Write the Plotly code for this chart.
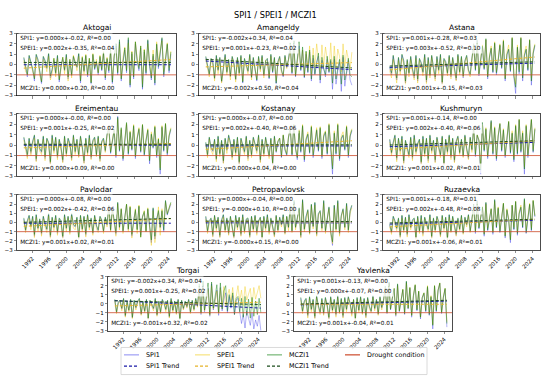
import plotly.graph_objects as go

W, H = 550, 380
START_YEAR = 1990
MONTH_STEP = 5
DROUGHT_LEVEL = -1
X_RANGE = [1988.4, 2025.8]
Y_RANGE = [-3, 3]
X_TICKS = [1992, 1996, 2000, 2004, 2008, 2012, 2016, 2020, 2024]
Y_TICKS = [-3, -2, -1, 0, 1, 2, 3]

stations = ["Aktogai", "Amangeldy", "Astana", "Ereimentau", "Kostanay", "Kushmuryn",
            "Pavlodar", "Petropavlovsk", "Ruzaevka", "Torgai", "Yavlenka"]

# regression equations shown in each panel (slope per month index, intercept, R^2)
spi_slope = [0.000, -0.002, 0.001, 0.000, 0.000, 0.001, 0.000, 0.000, 0.001, -0.002, 0.001]
spi_icpt = [-0.02, 0.34, -0.28, -0.001, -0.07, -0.14, -0.08, -0.04, -0.18, 0.34, -0.13]
spi_r2 = [0.00, 0.04, 0.03, 0.00, 0.00, 0.00, 0.00, 0.00, 0.01, 0.04, 0.00]
spei_slope = [0.002, 0.001, 0.003, 0.001, 0.002, 0.002, 0.002, -0.0001, 0.002, 0.001, 0.000]
spei_icpt = [-0.35, -0.23, -0.52, -0.25, -0.40, -0.40, -0.42, 0.10, -0.48, -0.25, -0.07]
spei_r2 = [0.04, 0.02, 0.10, 0.02, 0.06, 0.06, 0.06, 0.00, 0.08, 0.02, 0.00]
mczi_slope = [0.000, -0.002, 0.001, 0.000, 0.000, 0.001, 0.001, -0.0001, 0.001, -0.001, 0.001]
mczi_icpt = [0.20, 0.50, -0.15, 0.09, 0.04, 0.02, 0.02, 0.15, -0.06, 0.32, -0.04]
mczi_r2 = [0.00, 0.04, 0.03, 0.00, 0.00, 0.01, 0.01, 0.00, 0.01, 0.02, 0.01]

aktogai_spi = [0.6,-0.4,-1.2,0.8,0.2,-0.5,-1.6,0.9,0.4,-0.8,-1.9,0.7, 0.3,-0.4,1.0,-1.3,-0.6,0.4,-0.9,0.8,-1.7,-0.2,0.5,-0.6, 0.9,-1.4,0.3,-1.1,0.7,0.1,-0.3,1.0,-1.8,0.6,-0.7,0.8, -1.2,0.4,-2.0,0.9,-0.5,0.2,-1.0,0.7,-0.6,1.1,-1.5,0.5, -0.8,1.2,-1.9,0.6,1.8,-1.0,2.2,-1.6,0.4,1.4,-0.8,2.4, -2.2,1.0,-1.4,2.0,0.3,-0.6,1.6,-2.4,1.2,-1.0,2.3,-0.2, -1.5,0.8,-2.0,1.9,-0.4,1.0,2.5,-1.2,0.6,1.9,-0.8,1.0]
aktogai_spei = [0.4,-0.7,-0.9,0.6,0.0,-0.8,-1.3,0.7,0.2,-1.1,-1.6,0.5, 0.1,-0.7,0.8,-1.5,-0.9,0.6,-1.2,0.6,-1.4,-0.5,0.7,-0.9, 0.7,-1.6,0.5,-1.3,0.9,0.3,-0.6,0.8,-1.5,0.8,-0.9,1.0, -1.0,0.6,-1.7,1.1,-0.3,0.5,-0.8,0.9,-0.4,1.3,-1.2,0.7, -0.5,1.4,-1.5,0.9,1.6,-0.7,2.0,-1.3,0.7,1.7,-0.5,2.1, -1.8,1.3,-1.0,2.2,0.6,-0.2,1.8,-1.9,1.5,-0.6,2.0,0.2, -1.1,1.4,-1.5,2.2,0.2,1.3,2.3,-0.7,1.0,2.1,-0.3,1.3]
aktogai_mczi = [0.7,-0.3,-1.0,0.9,0.3,-0.4,-1.4,1.0,0.5,-0.7,-1.7,0.8, 0.4,-0.3,1.1,-1.1,-0.5,0.6,-0.8,0.9,-1.5,-0.1,0.7,-0.5, 1.0,-1.2,0.5,-1.0,0.8,0.2,-0.2,1.1,-1.6,0.7,-0.6,0.9, -1.0,0.6,-1.8,1.0,-0.4,0.3,-0.8,0.8,-0.5,1.2,-1.3,0.6, -0.6,1.4,-1.7,0.8,2.0,-0.8,2.4,-1.4,0.5,1.6,-0.6,2.6, -2.0,1.2,-1.2,2.2,0.4,-0.4,1.8,-2.2,1.4,-0.8,2.4,0.0, -1.3,1.0,-1.8,2.0,-0.2,1.2,2.6,-1.0,0.8,2.0,-0.6,1.2]

amangeldy_spi = [0.7,-0.3,-1.0,0.5,0.2,-1.4,0.8,-0.6,0.6,-1.7,-0.4,0.9, -0.8,0.4,-1.2,0.7,0.1,-1.5,0.6,-0.9,0.8,-1.8,0.5,-0.2, -0.7,0.9,-1.3,0.6,-0.4,-1.6,0.7,-0.5,0.8,-1.1,0.3,0.5, -1.4,0.9,-0.8,0.6,-1.9,0.2,0.7,-0.6,-1.2,0.8,-0.3,0.4, 1.6,-0.9,2.0,-1.2,0.4,1.8,-0.6,1.4,-1.3,1.0,-0.8,1.2, -1.6,0.6,-1.0,0.2,0.8,-1.8,0.4,-0.5,-1.2,0.5,-0.8,0.3, -2.4,0.5,-1.9,-0.6,0.2,-2.6,0.7,-2.1,-1.0,0.4,-1.5,-2.0]
amangeldy_spei = [0.5,-0.5,-1.2,0.4,0.0,-1.6,0.6,-0.9,0.5,-1.8,-0.6,0.7, -1.0,0.3,-1.5,0.6,-0.1,-1.7,0.5,-1.1,0.7,-1.6,0.4,-0.4, -0.9,0.8,-1.5,0.5,-0.6,-1.4,0.6,-0.7,0.7,-1.3,0.4,0.3, -1.2,0.8,-0.6,0.5,-1.6,0.1,0.6,-0.8,-1.0,0.7,-0.4,0.3, 1.3,-0.7,1.6,-1.0,0.3,1.5,-0.4,1.4,-1.0,1.2,-0.5,1.8, -0.9,1.6,-0.3,2.0,0.6,-0.8,1.9,-0.2,1.7,0.4,-0.6,2.1, -0.9,1.8,-0.4,1.5,0.8,-0.7,2.0,-0.2,1.4,0.5,-0.5,1.2]
amangeldy_mczi = [0.8,-0.2,-0.9,0.6,0.3,-1.3,0.9,-0.5,0.7,-1.6,-0.3,1.0, -0.7,0.5,-1.1,0.8,0.2,-1.4,0.7,-0.8,0.9,-1.7,0.6,-0.1, -0.6,1.0,-1.2,0.7,-0.3,-1.5,0.8,-0.4,0.9,-1.0,0.4,0.6, -1.3,1.0,-0.7,0.7,-1.8,0.3,0.8,-0.5,-1.1,0.9,-0.2,0.5, 2.1,-0.8,2.3,-1.1,0.5,2.2,-0.5,1.7,-1.2,1.3,-0.7,1.4, -1.4,0.9,-0.9,0.3,1.1,-1.5,0.7,-0.4,-1.0,0.8,-0.7,0.5, -1.8,0.8,-1.4,-0.4,0.5,-1.9,0.9,-1.5,-0.7,0.6,-1.0,-1.2]

astana_spi = [-0.3,-1.0,0.8,-0.2,-1.5,0.6,-0.7,0.9,0.3,-1.8,0.4,-0.9, 0.7,-0.5,-1.3,0.8,-1.6,0.5,0.1,-0.8,0.9,-1.7,0.6,-1.1, 0.8,-0.3,-1.4,0.7,-0.6,0.9,-1.9,0.5,0.2,-0.9,0.8,-1.2, 0.6,-0.4,-1.5,0.9,-0.8,0.7,-1.3,0.3,0.8,-0.6,-1.0,0.5, 1.9,-0.6,2.3,-1.1,0.4,1.7,-0.5,2.4,-1.4,0.6,1.5,-0.8, 2.0,-1.0,0.3,1.8,-0.4,2.2,-1.6,0.9,1.4,-0.7,2.5,-1.2, -2.8,1.6,-0.9,2.5,-1.6,0.8,1.4,-0.6,2.3,-2.0,1.0,1.8]
astana_spei = [-0.6,-1.3,0.5,-0.5,-1.8,0.4,-1.0,0.6,0.1,-2.0,0.3,-1.2, 0.5,-0.8,-1.5,0.6,-1.8,0.4,-0.2,-1.1,0.7,-1.9,0.4,-1.3, 0.7,-0.6,-1.6,0.5,-0.9,0.7,-2.0,0.4,0.0,-1.1,0.7,-1.4, 0.5,-0.7,-1.6,0.8,-1.0,0.6,-1.2,0.2,0.7,-0.8,-1.2,0.4, 1.8,-0.4,2.1,-0.9,0.6,1.9,-0.3,2.4,-1.1,0.8,1.8,-0.5, 2.2,-0.7,0.6,2.0,-0.2,2.4,-1.3,1.2,1.9,-0.5,2.6,-1.0, -1.9,1.9,-0.5,2.6,-1.0,1.2,1.8,-0.3,2.4,-1.3,1.3,2.0]
astana_mczi = [-0.2,-0.8,0.9,-0.1,-1.3,0.7,-0.6,1.0,0.4,-1.6,0.5,-0.8, 0.8,-0.4,-1.1,0.9,-1.4,0.6,0.2,-0.7,1.0,-1.5,0.7,-1.0, 0.9,-0.2,-1.2,0.8,-0.5,1.0,-1.7,0.6,0.3,-0.8,0.9,-1.0, 0.7,-0.3,-1.3,1.0,-0.7,0.8,-1.1,0.4,0.9,-0.5,-0.9,0.6, 2.0,-0.5,2.4,-0.9,0.5,1.8,-0.4,2.5,-1.2,0.7,1.6,-0.7, 2.1,-0.8,0.4,1.9,-0.3,2.3,-1.4,1.0,1.5,-0.6,2.6,-1.1, -2.2,1.7,-0.7,2.6,-1.3,0.9,1.5,-0.5,2.4,-1.6,1.1,1.9]

ereimentau_spi = [0.7,-0.2,-1.1,0.6,-0.8,0.3,0.9,-1.5,0.5,-0.4,-0.7,0.8, -1.3,0.6,0.2,-1.8,0.9,-0.6,0.7,-1.2,0.5,-0.3,-1.6,0.8, -0.9,0.6,0.1,-1.4,0.9,-0.7,0.5,-1.1,0.8,-0.2,-1.7,0.6, -0.8,0.9,-1.3,0.4,0.7,-1.0,0.8,-1.5,0.3,0.6,-0.6,1.0, 1.6,-0.8,0.4,1.4,-1.2,2.8,-0.6,1.5,-1.5,0.3,2.0,-0.9, 1.2,-0.5,1.8,-1.3,0.6,1.5,-0.7,1.9,-1.0,0.4,1.4,-1.8, 1.0,-0.3,1.7,-1.2,0.5,-2.8,1.7,-0.6,2.0,-1.0,0.8,1.5]
ereimentau_spei = [0.5,-0.4,-1.3,0.4,-1.0,0.1,0.7,-1.6,0.4,-0.6,-0.9,0.6, -1.5,0.5,0.0,-1.9,0.7,-0.8,0.6,-1.4,0.4,-0.5,-1.7,0.7, -1.1,0.4,-0.1,-1.5,0.8,-0.9,0.4,-1.2,0.7,-0.4,-1.8,0.5, -1.0,0.7,-1.4,0.3,0.6,-1.1,0.7,-1.6,0.2,0.5,-0.7,0.9, 1.5,-0.6,0.5,1.6,-1.0,2.5,-0.4,1.6,-1.2,0.5,2.1,-0.6, 1.4,-0.3,2.0,-1.0,0.8,1.7,-0.5,2.0,-0.7,0.6,1.6,-1.4, 1.3,-0.1,1.9,-0.9,0.7,-2.2,1.9,-0.3,2.1,-0.7,1.0,1.7]
ereimentau_mczi = [0.8,-0.1,-0.9,0.7,-0.6,0.4,1.0,-1.3,0.6,-0.3,-0.6,0.9, -1.1,0.7,0.3,-1.6,1.0,-0.5,0.8,-1.0,0.6,-0.2,-1.4,0.9, -0.8,0.7,0.2,-1.2,1.0,-0.6,0.6,-0.9,0.9,-0.1,-1.5,0.7, -0.7,1.0,-1.1,0.5,0.8,-0.9,0.9,-1.3,0.4,0.7,-0.5,1.1, 1.8,-0.7,0.5,1.5,-1.0,2.7,-0.5,1.7,-1.3,0.4,2.2,-0.8, 1.3,-0.4,1.9,-1.1,0.7,1.6,-0.6,2.0,-0.9,0.5,1.5,-1.5, 1.1,-0.2,1.8,-1.0,0.6,-2.4,1.8,-0.5,2.1,-0.8,0.9,1.6]

kostanay_spi = [0.2,-1.0,0.7,-0.3,-0.6,0.5,-1.4,0.8,-0.9,0.4,-1.7,0.6, -0.5,0.9,0.2,-1.2,0.5,-0.8,0.7,-1.8,0.6,-0.2,-0.7,0.8, -1.3,0.4,-1.0,0.7,0.1,-0.6,0.9,-1.6,0.5,-0.9,0.7,-0.3, -1.1,0.6,-1.9,0.8,-0.7,0.3,0.6,-1.2,0.9,-0.5,-1.0,0.7, 1.5,-1.0,1.9,-0.4,-1.4,1.2,-0.7,1.8,-1.6,0.5,1.0,-0.8, 1.7,-1.2,0.4,1.4,-0.6,1.6,-1.3,0.8,1.2,-0.9,1.9,-0.5, -2.8,1.1,-0.9,1.9,-1.5,0.6,0.9,-0.5,1.7,-1.2,0.8,1.4]
kostanay_spei = [0.0,-1.2,0.6,-0.5,-0.9,0.4,-1.6,0.6,-1.1,0.3,-1.8,0.5, -0.8,0.7,0.0,-1.4,0.4,-1.0,0.6,-1.9,0.5,-0.4,-0.9,0.7, -1.5,0.3,-1.2,0.6,-0.1,-0.8,0.8,-1.7,0.4,-1.1,0.6,-0.5, -1.3,0.5,-1.8,0.7,-0.6,0.4,0.7,-1.0,1.0,-0.3,-0.8,0.8, 1.6,-0.8,2.0,-0.2,-1.1,1.5,-0.4,2.0,-1.2,0.7,1.3,-0.5, 1.9,-0.8,0.6,1.7,-0.3,1.8,-1.0,1.1,1.4,-0.6,2.1,-0.2, -2.0,1.4,-0.6,2.1,-1.0,0.9,1.3,-0.2,1.9,-0.8,1.1,1.6]
kostanay_mczi = [0.3,-0.9,0.8,-0.2,-0.5,0.6,-1.3,0.9,-0.8,0.5,-1.5,0.7, -0.4,1.0,0.3,-1.1,0.6,-0.7,0.8,-1.6,0.7,-0.1,-0.6,0.9, -1.1,0.5,-0.9,0.8,0.2,-0.5,1.0,-1.4,0.6,-0.8,0.8,-0.2, -1.0,0.7,-1.7,0.9,-0.6,0.4,0.7,-1.1,1.0,-0.4,-0.9,0.8, 1.7,-0.9,2.0,-0.3,-1.2,1.4,-0.6,1.9,-1.4,0.6,1.1,-0.7, 1.8,-1.0,0.5,1.5,-0.5,1.7,-1.1,0.9,1.3,-0.8,2.0,-0.4, -2.3,1.2,-0.8,2.0,-1.3,0.7,1.0,-0.4,1.8,-1.0,0.9,1.5]

kushmuryn_spi = [0.5,-0.8,0.2,0.9,-1.4,0.6,-0.6,0.8,-1.7,0.4,-0.3,-1.0, 0.7,-1.3,0.9,-0.7,0.1,0.5,-1.8,0.8,-0.9,0.6,-1.5,0.9, -0.6,0.4,-1.6,0.7,-0.2,-1.0,0.8,-1.9,0.5,-0.7,0.9,-1.2, 0.6,-1.6,0.3,0.8,-0.8,0.5,-1.1,0.9,-0.4,-1.3,0.7,-0.5, 1.7,-1.1,0.9,0.4,-2.8,2.1,-0.6,1.5,-1.3,0.6,2.3,-0.9, 1.6,-1.5,0.8,2.0,-0.6,1.4,-1.2,0.5,2.2,-0.8,1.1,-1.6, 1.8,-0.9,2.4,-0.7,1.1,-2.8,1.8,-1.2,0.6,2.4,-0.7,1.5]
kushmuryn_spei = [0.3,-1.0,0.0,0.7,-1.6,0.5,-0.9,0.6,-1.9,0.3,-0.6,-1.2, 0.6,-1.5,0.7,-0.9,-0.1,0.4,-1.9,0.6,-1.1,0.5,-1.7,0.7, -0.8,0.3,-1.7,0.6,-0.4,-1.2,0.7,-2.0,0.4,-0.9,0.8,-1.4, 0.5,-1.7,0.2,0.7,-0.9,0.4,-1.2,0.8,-0.6,-1.4,0.6,-0.7, 1.6,-0.8,1.0,0.5,-2.2,2.0,-0.4,1.7,-1.0,0.8,2.2,-0.6, 1.8,-1.1,1.0,2.1,-0.3,1.6,-0.9,0.7,2.3,-0.5,1.4,-1.2, 2.0,-0.6,2.5,-0.4,1.4,-2.1,2.0,-0.8,0.9,2.5,-0.4,1.7]
kushmuryn_mczi = [0.6,-0.7,0.3,1.0,-1.2,0.7,-0.5,0.9,-1.5,0.5,-0.2,-0.9, 0.8,-1.1,1.0,-0.6,0.2,0.6,-1.6,0.9,-0.8,0.7,-1.3,1.0, -0.5,0.5,-1.4,0.8,-0.1,-0.9,0.9,-1.7,0.6,-0.6,1.0,-1.0, 0.7,-1.4,0.4,0.9,-0.7,0.6,-1.0,1.0,-0.3,-1.1,0.8,-0.4, 1.8,-0.9,1.0,0.5,-2.4,2.2,-0.5,1.6,-1.1,0.7,2.4,-0.8, 1.7,-1.3,0.9,2.1,-0.5,1.5,-1.0,0.6,2.3,-0.7,1.2,-1.4, 1.9,-0.8,2.5,-0.6,1.2,-2.3,1.9,-1.0,0.7,2.5,-0.6,1.6]

pavlodar_spi = [0.4,-0.9,0.1,0.7,-0.5,0.6,-1.5,0.8,-0.7,0.3,-1.3,0.6, -0.2,-0.8,0.9,-1.6,0.5,-0.6,0.7,-1.2,0.4,0.1,-1.7,0.8, -0.7,0.6,-1.1,0.9,-0.3,-0.5,0.5,-1.8,0.7,-0.8,0.6,-1.4, 0.8,-0.6,0.4,-1.2,0.7,-0.4,-0.9,0.6,0.2,-1.0,0.5,-0.3, 1.8,-0.9,1.5,0.2,-1.3,2.1,-0.6,1.4,-1.0,0.5,1.9,-0.8, 1.6,-1.5,0.3,1.2,-0.7,1.7,-1.4,0.6,1.0,-0.9,1.4,-0.5, -2.2,1.5,-1.8,0.4,1.1,-0.6,1.2,-1.0,2.3,0.8,1.4,2.0]
pavlodar_spei = [0.2,-1.1,-0.1,0.5,-0.8,0.4,-1.7,0.6,-1.0,0.2,-1.5,0.4, -0.5,-1.1,0.7,-1.8,0.4,-0.9,0.5,-1.4,0.3,-0.2,-1.9,0.6, -1.0,0.5,-1.3,0.7,-0.6,-0.8,0.4,-1.9,0.6,-1.0,0.5,-1.6, 0.7,-0.8,0.3,-1.4,0.6,-0.7,-1.1,0.5,0.1,-1.2,0.4,-0.5, 1.6,-1.0,1.4,0.0,-1.5,2.0,-0.8,1.5,-1.2,0.4,2.0,-1.0, 1.8,-1.7,0.2,1.5,-1.2,1.9,-1.6,0.5,1.3,-1.0,1.6,-0.9, -2.5,1.3,-2.2,-0.6,1.7,-1.4,1.5,-0.4,2.2,1.0,1.6,2.1]
pavlodar_mczi = [0.5,-0.8,0.2,0.8,-0.4,0.7,-1.3,0.9,-0.6,0.4,-1.1,0.7, -0.1,-0.7,1.0,-1.4,0.6,-0.5,0.8,-1.0,0.5,0.2,-1.5,0.9, -0.6,0.7,-0.9,1.0,-0.2,-0.4,0.6,-1.6,0.8,-0.7,0.7,-1.2, 0.9,-0.5,0.5,-1.1,0.8,-0.3,-0.8,0.7,0.3,-0.9,0.6,-0.2, 1.9,-0.8,1.6,0.3,-1.1,2.2,-0.5,1.5,-0.9,0.6,2.0,-0.7, 1.7,-1.3,0.4,1.4,-0.8,1.8,-1.6,0.7,1.2,-1.0,1.5,-0.6, -1.9,1.6,-1.5,0.3,1.3,-0.5,1.3,-0.8,2.4,0.9,1.5,2.2]

petropavlovsk_spi = [0.6,-1.0,0.1,0.4,-1.5,0.7,-0.7,0.5,-1.6,0.2,0.8,-0.9, 0.4,-1.3,0.6,-0.4,-1.7,0.7,-0.6,0.5,-1.4,0.8,-1.0,0.3, 0.4,-1.6,0.6,-0.8,0.7,-1.2,0.1,0.5,-1.8,0.6,-0.7,0.8, -1.1,0.4,-0.5,-1.5,0.7,-0.9,0.5,-0.3,0.8,-1.2,0.6,-0.6, 1.7,-1.0,2.2,-0.6,0.4,1.5,-1.6,2.4,-0.8,0.6,1.3,-1.2, 1.9,-0.5,2.1,-1.4,0.9,1.2,-0.7,2.3,-1.0,0.5,1.6,-1.1, -2.5,1.8,-0.8,2.3,-1.3,0.7,1.4,-0.6,2.0,-0.9,1.2,1.8]
petropavlovsk_spei = [0.4,-1.2,-0.1,0.3,-1.6,0.6,-0.9,0.4,-1.7,0.0,0.6,-1.1, 0.3,-1.4,0.5,-0.6,-1.8,0.5,-0.8,0.5,-1.5,0.6,-1.2,0.2, 0.3,-1.7,0.5,-1.0,0.6,-1.4,-0.1,0.4,-1.9,0.5,-0.9,0.6, -1.3,0.3,-0.7,-1.6,0.6,-1.1,0.3,-0.5,0.6,-1.3,0.6,-0.9, 1.5,-1.1,2.0,-0.8,0.3,1.4,-1.7,2.2,-1.0,0.4,1.2,-1.3, 1.8,-0.7,1.9,-1.5,0.8,1.1,-0.9,2.1,-1.2,0.4,1.5,-1.3, -2.3,1.6,-1.0,2.1,-1.5,0.6,1.3,-0.8,1.8,-1.1,1.0,1.6]
petropavlovsk_mczi = [0.7,-0.9,0.2,0.5,-1.3,0.8,-0.6,0.6,-1.4,0.3,0.9,-0.8, 0.5,-1.1,0.7,-0.3,-1.5,0.8,-0.5,0.6,-1.2,0.9,-0.9,0.4, 0.5,-1.4,0.7,-0.7,0.8,-1.0,0.2,0.6,-1.6,0.7,-0.6,0.9, -1.0,0.5,-0.4,-1.3,0.8,-0.8,0.6,-0.2,0.9,-1.1,0.7,-0.5, 1.8,-0.9,2.4,-0.5,0.5,1.6,-1.4,2.5,-0.7,0.7,1.4,-1.1, 2.0,-0.4,2.2,-1.2,1.0,1.3,-0.6,2.4,-0.9,0.6,1.7,-1.0, -2.1,1.9,-0.7,2.4,-1.1,0.8,1.5,-0.5,2.1,-0.8,1.3,1.9]

ruzaevka_spi = [-0.3,-1.1,0.6,0.1,-0.7,0.4,-1.6,0.7,-0.9,0.5,-1.4,0.8, -0.6,0.2,0.4,-1.8,0.6,-1.0,0.7,-1.3,0.5,-0.2,-0.8,0.8, -1.7,0.4,-0.9,0.6,0.0,-1.5,0.7,-0.7,0.5,-1.9,0.8,-1.0, 0.6,-0.4,-1.4,0.4,-0.8,0.7,-1.2,0.5,-0.3,0.8,-1.0,0.3, 1.9,-1.2,2.3,-0.7,0.5,1.6,-1.5,2.1,-0.9,0.4,1.4,-1.3, 2.4,-0.6,1.5,-1.1,0.8,2.0,-1.7,1.3,0.2,-2.2,1.8,-0.8, 2.2,-1.4,0.9,1.6,-0.6,2.5,-1.2,0.7,1.9,-0.9,2.3,0.6]
ruzaevka_spei = [-0.5,-1.3,0.4,-0.1,-0.9,0.3,-1.8,0.5,-1.1,0.4,-1.6,0.6, -0.8,0.0,0.3,-1.9,0.5,-1.2,0.5,-1.5,0.4,-0.4,-1.0,0.6, -1.8,0.3,-1.1,0.5,-0.2,-1.6,0.6,-0.9,0.4,-2.0,0.6,-1.1, 0.5,-0.6,-1.5,0.3,-0.9,0.6,-1.3,0.4,-0.5,0.7,-1.1,0.2, 1.7,-1.0,2.1,-0.5,0.6,1.7,-1.2,2.0,-0.6,0.6,1.5,-1.0, 2.3,-0.4,1.7,-0.8,1.0,2.1,-1.4,1.5,0.4,-1.8,1.9,-0.5, 2.3,-1.0,1.1,1.9,-0.3,2.4,-0.8,0.9,2.1,-0.6,2.4,0.8]
ruzaevka_mczi = [-0.2,-1.0,0.7,0.2,-0.6,0.5,-1.4,0.8,-0.8,0.6,-1.2,0.9, -0.5,0.3,0.5,-1.6,0.7,-0.9,0.8,-1.1,0.6,-0.1,-0.7,0.9, -1.5,0.5,-0.8,0.7,0.1,-1.3,0.8,-0.6,0.6,-1.7,0.9,-0.9, 0.7,-0.3,-1.2,0.5,-0.7,0.8,-1.1,0.6,-0.2,0.9,-0.9,0.4, 2.0,-1.0,2.4,-0.6,0.6,1.7,-1.3,2.2,-0.8,0.5,1.5,-1.1, 2.5,-0.5,1.6,-1.0,0.9,2.1,-1.5,1.4,0.3,-1.9,1.9,-0.7, 2.3,-1.2,1.0,1.7,-0.5,2.6,-1.1,0.8,2.0,-0.8,2.4,0.7]

torgai_spi = [0.4,-1.0,0.1,0.3,-0.6,0.5,-1.4,0.2,-0.8,0.4,-1.6,0.3, -0.5,0.2,0.5,-1.2,0.2,-0.9,0.4,-1.7,0.3,-0.2,-0.6,0.5, -1.3,0.2,-1.0,0.4,0.0,-0.7,0.3,-1.5,0.5,-0.8,0.2,-1.1, 0.4,-1.8,0.3,-0.6,0.2,-0.4,0.4,-1.0,0.3,-0.7,0.5,-0.3, 1.6,-1.2,2.0,-0.9,0.4,1.7,-1.4,2.2,-0.7,0.3,1.5,-1.3, 1.8,-0.8,0.5,1.2,-1.0,0.8,-0.5,0.9,-1.2,0.4,0.6,-0.9, -2.2,-1.2,-2.7,-0.8,-1.6,-2.4,-1.0,-2.8,-1.8,-2.5,-1.3,-3.0]
torgai_spei = [0.3,-1.1,0.0,0.2,-0.8,0.4,-1.5,0.1,-0.9,0.3,-1.7,0.2, -0.7,0.1,0.4,-1.3,0.1,-1.0,0.3,-1.8,0.2,-0.3,-0.8,0.4, -1.4,0.1,-1.1,0.3,-0.1,-0.9,0.2,-1.6,0.4,-1.0,0.1,-1.2, 0.3,-1.9,0.2,-0.7,0.1,-0.5,0.3,-1.1,0.2,-0.8,0.4,-0.4, 1.4,-1.1,1.8,-0.8,0.3,1.6,-1.3,2.0,-0.6,0.2,1.4,-1.1, 1.7,-0.5,1.9,-0.3,0.9,1.6,0.2,1.8,-0.4,1.0,2.0,0.3, 1.5,-0.2,1.9,0.4,1.2,1.7,-0.3,1.8,0.5,1.4,2.0,0.6]
torgai_mczi = [0.5,-0.9,0.2,0.4,-0.5,0.6,-1.3,0.3,-0.7,0.5,-1.5,0.4, -0.4,0.3,0.6,-1.1,0.3,-0.8,0.5,-1.6,0.4,-0.1,-0.5,0.6, -1.2,0.3,-0.9,0.5,0.1,-0.6,0.4,-1.4,0.6,-0.7,0.3,-1.0, 0.5,-1.7,0.4,-0.5,0.3,-0.3,0.5,-0.9,0.4,-0.6,0.6,-0.2, 2.2,-1.0,2.5,-0.7,1.0,2.3,-1.2,2.4,-0.5,0.8,2.1,-1.0, 2.3,-0.6,1.4,2.0,-0.8,1.0,-0.4,1.2,-1.2,0.6,0.8,-0.9, 0.6,-1.5,0.8,-1.3,0.5,-1.6,0.7,-1.4,0.3,-1.2,0.6,-1.0]

yavlenka_spi = [0.6,-0.9,0.2,0.5,-1.4,0.7,-0.7,0.4,-1.6,0.8,-0.3,-1.0, 0.5,-1.2,0.6,-0.2,-1.7,0.7,-0.8,0.4,-1.3,0.8,-1.0,0.5, -1.5,0.6,-0.7,0.7,0.0,-1.2,0.4,-1.8,0.6,-0.8,0.7,-1.1, 0.5,-1.5,0.6,-0.4,-0.9,0.8,-0.6,0.4,-1.2,0.7,-0.5,0.3, 1.8,-1.1,2.3,-0.7,0.5,1.6,-1.4,2.1,-0.9,0.4,1.5,-1.2, 2.4,-0.6,1.7,-1.5,0.8,2.0,-0.8,1.3,-1.7,0.6,1.1,-0.9, 1.8,-1.3,0.7,-2.8,1.9,-0.9,1.4,2.2,-1.1,0.6,1.6,-2.6]
yavlenka_spei = [0.4,-1.1,0.0,0.4,-1.6,0.6,-0.9,0.3,-1.7,0.7,-0.5,-1.2, 0.4,-1.3,0.5,-0.4,-1.8,0.6,-1.0,0.3,-1.5,0.7,-1.1,0.4, -1.6,0.5,-0.9,0.6,-0.2,-1.4,0.4,-1.9,0.5,-1.0,0.6,-1.2, 0.4,-1.6,0.5,-0.6,-1.0,0.7,-0.8,0.3,-1.3,0.6,-0.7,0.2, 1.7,-1.0,2.2,-0.6,0.6,1.7,-1.3,2.0,-0.8,0.5,1.6,-1.0, 2.3,-0.5,1.8,-1.3,0.9,2.1,-0.6,1.4,-1.5,0.7,1.2,-0.7, 2.0,-1.0,0.9,-2.3,2.0,-0.7,1.5,2.3,-0.9,0.8,1.7,-2.0]
yavlenka_mczi = [0.7,-0.8,0.3,0.6,-1.2,0.8,-0.6,0.5,-1.4,0.9,-0.2,-0.9, 0.6,-1.0,0.7,-0.1,-1.5,0.8,-0.7,0.5,-1.1,0.9,-0.9,0.6, -1.3,0.7,-0.6,0.8,0.1,-1.0,0.5,-1.6,0.7,-0.7,0.8,-1.0, 0.6,-1.3,0.7,-0.3,-0.8,0.9,-0.5,0.5,-1.1,0.8,-0.4,0.4, 1.9,-1.0,2.4,-0.6,0.6,1.7,-1.2,2.2,-0.8,0.5,1.6,-1.1, 2.5,-0.5,1.8,-1.3,0.9,2.1,-0.7,1.4,-1.5,0.7,1.2,-0.8, 1.9,-1.2,0.8,-2.4,2.0,-0.8,1.5,2.3,-1.0,0.7,1.7,-2.2]

series = [
    (aktogai_spi, aktogai_spei, aktogai_mczi),
    (amangeldy_spi, amangeldy_spei, amangeldy_mczi),
    (astana_spi, astana_spei, astana_mczi),
    (ereimentau_spi, ereimentau_spei, ereimentau_mczi),
    (kostanay_spi, kostanay_spei, kostanay_mczi),
    (kushmuryn_spi, kushmuryn_spei, kushmuryn_mczi),
    (pavlodar_spi, pavlodar_spei, pavlodar_mczi),
    (petropavlovsk_spi, petropavlovsk_spei, petropavlovsk_mczi),
    (ruzaevka_spi, ruzaevka_spei, ruzaevka_mczi),
    (torgai_spi, torgai_spei, torgai_mczi),
    (yavlenka_spi, yavlenka_spei, yavlenka_mczi),
]

# ---- styling / layout (pixels) ----
FONT = "DejaVu Sans"
C_SPI = "rgba(40,40,230,0.45)"
C_SPEI = "rgba(240,200,0,0.5)"
C_MCZI = "rgba(0,120,0,0.55)"
C_SPI_T = "#1a1aa8"
C_SPEI_T = "#e6b42a"
C_MCZI_T = "#1d4d1d"
C_DROUGHT = "#cc4a2a"

cols = [(17, 176), (199, 357), (383, 540)]
rows = [(31, 94), (113, 176), (195, 251), (278, 333)]
boxes = []
for r in range(3):
    for c in range(3):
        boxes.append((cols[c][0], cols[c][1], rows[r][0], rows[r][1], r == 2))
boxes.append((108, 266, rows[3][0], rows[3][1], True))
boxes.append((294, 452, rows[3][0], rows[3][1], True))

fig = go.Figure()
layout = dict(width=W, height=H, autosize=False, margin=dict(l=0, r=0, t=0, b=0),
              paper_bgcolor="white", plot_bgcolor="white", showlegend=False,
              font=dict(family=FONT, color="black"))
annotations = []
shapes = []


def px(xp):
    return xp / W


def py(yp):
    return 1 - yp / H


def eq(label, s, b, r2):
    return f"{label}: y={s:.3f}x+{b:.2f}, <i>R</i>²={r2:.2f}"


for k, name in enumerate(stations):
    n = k + 1
    sfx = "" if n == 1 else str(n)
    xa, ya = "x" + sfx, "y" + sfx
    L, R, T, B, bottom = boxes[k]
    s_spi, s_spei, s_mczi = series[k]
    for vals, col in ((s_spi, C_SPI), (s_spei, C_SPEI), (s_mczi, C_MCZI)):
        mm = [MONTH_STEP * i for i in range(len(vals))]
        fig.add_trace(go.Scatter(x=[START_YEAR + m / 12 for m in mm], y=vals, mode="lines",
                                 line=dict(color=col, width=0.8), xaxis=xa, yaxis=ya,
                                 hoverinfo="skip"))
    months = [MONTH_STEP * i for i in range(len(s_spi))]
    xs = [START_YEAR + m / 12 for m in months]
    for sl, ic, col in ((spi_slope[k], spi_icpt[k], C_SPI_T),
                        (spei_slope[k], spei_icpt[k], C_SPEI_T),
                        (mczi_slope[k], mczi_icpt[k], C_MCZI_T)):
        fig.add_trace(go.Scatter(x=[xs[0], xs[-1]], y=[sl * months[0] + ic, sl * months[-1] + ic],
                                 mode="lines", line=dict(color=col, width=1, dash="3px,2px"),
                                 xaxis=xa, yaxis=ya, hoverinfo="skip"))
    shapes.append(dict(type="line", xref=xa + " domain", yref=ya, x0=0, x1=1,
                       y0=DROUGHT_LEVEL, y1=DROUGHT_LEVEL,
                       line=dict(color=C_DROUGHT, width=0.8), layer="above"))
    layout["xaxis" + sfx] = dict(domain=[px(L), px(R)], range=X_RANGE, anchor=ya,
                                 tickvals=X_TICKS, showticklabels=bottom, tickangle=-45,
                                 tickfont=dict(size=5.5), ticks="outside", ticklen=2.5,
                                 tickwidth=0.6, showline=True, mirror=True, linecolor="black",
                                 linewidth=0.7, showgrid=False, zeroline=False)
    layout["yaxis" + sfx] = dict(domain=[py(B), py(T)], range=Y_RANGE, anchor=xa,
                                 tickvals=Y_TICKS, tickfont=dict(size=5.5), ticks="outside",
                                 ticklen=2.5, tickwidth=0.6, showline=True, mirror=True,
                                 linecolor="black", linewidth=0.7, showgrid=False,
                                 zeroline=False)
    annotations.append(dict(text=name, x=px((L + R) / 2), y=py(T - 6), xref="paper", yref="paper",
                            showarrow=False, xanchor="center", yanchor="middle",
                            font=dict(size=7.5)))
    for txt, yc in ((eq("SPI1", spi_slope[k], spi_icpt[k], spi_r2[k]), T + 4.8),
                    (eq("SPEI1", spei_slope[k], spei_icpt[k], spei_r2[k]), T + 14.8),
                    (eq("MCZI1", mczi_slope[k], mczi_icpt[k], mczi_r2[k]), B - 7.5)):
        annotations.append(dict(text=txt, x=px(L + 1), y=py(yc), xref="paper", yref="paper",
                                showarrow=False, xanchor="left", yanchor="middle",
                                font=dict(size=5.7), bgcolor="rgba(255,255,255,0.8)",
                                borderpad=1.2))

annotations.append(dict(text="SPI1 / SPEI1 / MCZI1", x=0.5, y=py(12), xref="paper", yref="paper",
                        showarrow=False, xanchor="center", yanchor="middle", font=dict(size=8.2)))

# legend (drawn manually)
shapes.append(dict(type="rect", xref="paper", yref="paper", x0=px(121), x1=px(427),
                   y0=py(350), y1=py(377.5), line=dict(color="#d0d0d0", width=0.8),
                   fillcolor="rgba(255,255,255,0.9)", layer="above"))
legend_items = [
    ("SPI1", C_SPI, "solid", 124, 357.5),
    ("SPEI1", C_SPEI, "solid", 195, 357.5),
    ("MCZI1", C_MCZI, "solid", 267, 357.5),
    ("Drought condition", C_DROUGHT, "solid", 345, 357.5),
    ("SPI1 Trend", C_SPI_T, "3px,2px", 124, 369),
    ("SPEI1 Trend", C_SPEI_T, "3px,2px", 195, 369),
    ("MCZI1 Trend", C_MCZI_T, "3px,2px", 267, 369),
]
for lab, col, dash, x0, yc in legend_items:
    shapes.append(dict(type="line", xref="paper", yref="paper", x0=px(x0), x1=px(x0 + 15),
                       y0=py(yc), y1=py(yc), line=dict(color=col, width=1.2, dash=dash),
                       layer="above"))
    annotations.append(dict(text=lab, x=px(x0 + 20), y=py(yc), xref="paper", yref="paper",
                            showarrow=False, xanchor="left", yanchor="middle",
                            font=dict(size=6.4)))

layout["annotations"] = annotations
layout["shapes"] = shapes
fig.update_layout(**layout)
fig.write_html("out.html", config={"displayModeBar": False, "staticPlot": True},
               post_script="document.body.style.margin='0';document.body.style.padding='0';"
                           "document.documentElement.style.overflow='hidden';")
